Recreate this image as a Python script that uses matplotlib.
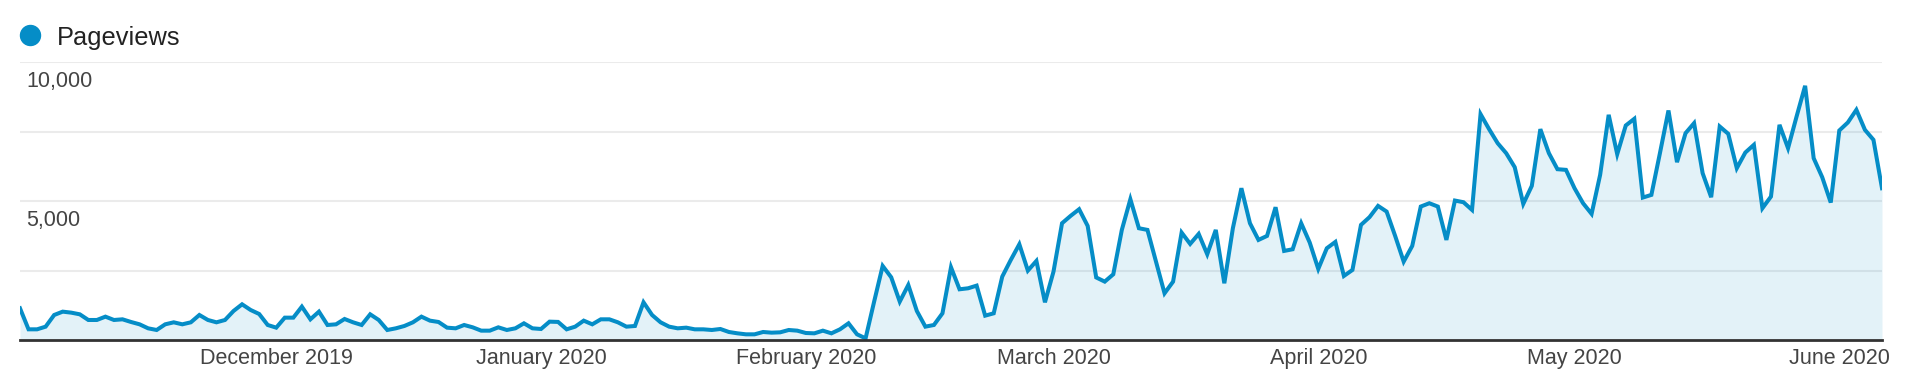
import numpy as np
import pandas as pd
import matplotlib.pyplot as plt
from matplotlib.lines import Line2D

plt.rcParams['font.family'] = ['Liberation Sans', 'DejaVu Sans']

# daily pageviews, 1 Nov 2019 - 6 Jun 2020
nov_2019 = [1140, 384, 384, 480, 900, 1020, 984, 924, 720, 720, 840, 720, 744, 648, 564,
            420, 360, 564, 636, 564, 636, 900, 720, 636, 720, 1044, 1284, 1080, 936, 540]
dec_2019 = [444, 804, 804, 1200, 744, 1020, 540, 564, 756, 636, 540, 924, 720, 360, 420, 504,
            636, 840, 696, 648, 444, 420, 540, 456, 336, 336, 456, 360, 420, 600, 420]
jan_2020 = [396, 660, 650, 384, 480, 696, 564, 744, 744, 636, 480, 504, 1356, 900, 636, 480,
            420, 444, 384, 384, 360, 396, 288, 240, 204, 204, 288, 264, 276, 360, 336]
feb_2020 = [252, 240, 336, 240, 384, 600, 204, 60, 1380, 2664, 2256, 1380, 1980, 1044, 480,
            540, 960, 2616, 1824, 1860, 1956, 876, 960, 2280, 2880, 3444, 2496, 2844, 1356]
mar_2020 = [2460, 4200, 4464, 4704, 4104, 2250, 2100, 2364, 3960, 5064, 4020, 3960, 2820, 1680,
            2100, 3864, 3456, 3816, 3084, 3960, 2040, 4020, 5460, 4200, 3600, 3744, 4776, 3204,
            3264, 4200, 3504]
apr_2020 = [2556, 3300, 3528, 2304, 2520, 4140, 4420, 4824, 4620, 3744, 2820, 3384, 4800, 4920,
            4800, 3600, 5016, 4956, 4680, 8124, 7584, 7080, 6720, 6216, 4896, 5544, 7584, 6720,
            6144, 6120]
may_2020 = [5460, 4920, 4536, 5940, 8100, 6684, 7716, 7956, 5124, 5220, 6720, 8256, 6396, 7440,
            7800, 6000, 5136, 7680, 7416, 6180, 6744, 7020, 4740, 5160, 7740, 6900, 8040, 9144,
            6540, 5856, 4944]
jun_2020 = [7536, 7824, 8280, 7560, 7200, 5460]

pageviews = np.array(nov_2019 + dec_2019 + jan_2020 + feb_2020 + mar_2020 + apr_2020 + may_2020 + jun_2020)
dates = pd.date_range('2019-11-01', periods=len(pageviews), freq='D')

month_ticks = pd.date_range('2019-12-01', '2020-06-01', freq='MS')
month_labels = [d.strftime('%B %Y') for d in month_ticks]
y_ticks = [5000, 10000]

blue = '#058dc7'

fig = plt.figure(figsize=(19.14, 3.8), dpi=100)
ax = fig.add_axes([20/1914, 40/380, 1862/1914, 278/380])

for g in [2500, 5000, 7500, 10000]:
    ax.axhline(g, color='#ebebeb', lw=1.5, zorder=0)
ax.fill_between(dates, pageviews, 0, color=blue, alpha=0.11, lw=0, zorder=1)
ax.plot(dates, pageviews, color=blue, lw=2.9, solid_joinstyle='miter', zorder=3)

ax.set_xlim(dates[0], dates[-1])
ax.set_ylim(0, 10000)
for s in ['top', 'left', 'right']:
    ax.spines[s].set_visible(False)
ax.spines['bottom'].set_color('#333333')
ax.spines['bottom'].set_linewidth(2)
ax.spines['bottom'].set_zorder(4)

ax.set_yticks([])
ax.set_xticks(month_ticks)
ax.set_xticklabels(month_labels)
ax.tick_params(axis='x', length=0, pad=6, labelsize=15.5, labelcolor='#444444')

for v in y_ticks:
    ax.annotate(f'{v:,}', xy=(0, v), xycoords=('axes fraction', 'data'),
                xytext=(4.8, -18), textcoords='offset points',
                ha='left', va='baseline', fontsize=15.5, color='#444444')

# legend
fig.add_artist(Line2D([30/1914], [1 - 35/380], marker='o', markersize=14.4, color=blue,
                      lw=0, transform=fig.transFigure))
fig.text(57/1914, 1 - 45/380, 'Pageviews', ha='left', va='baseline', fontsize=18.3, color='#222222')

plt.savefig('out.png', dpi=100)
